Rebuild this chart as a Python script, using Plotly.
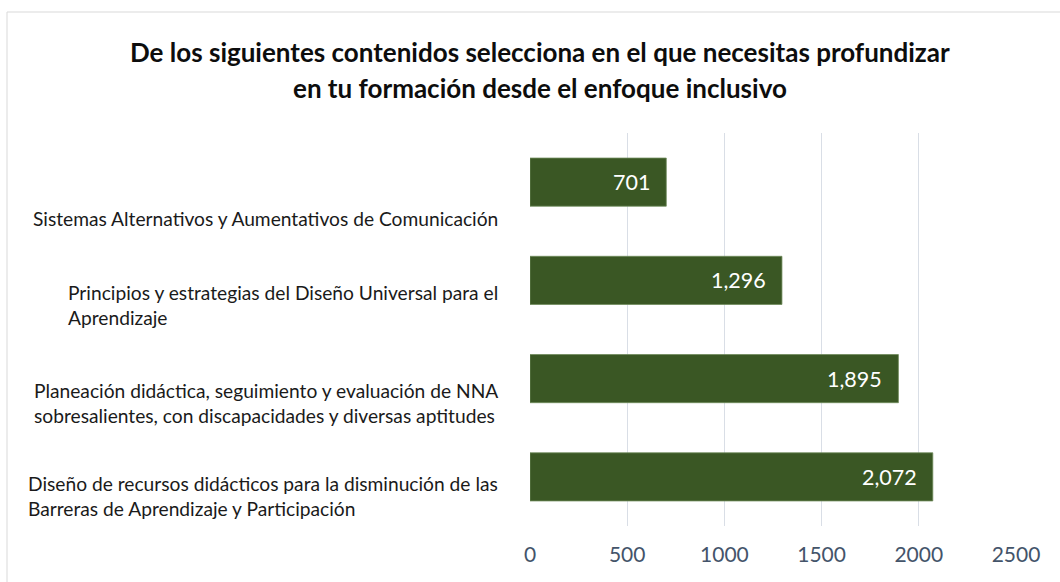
import plotly.graph_objects as go

categories = [
    "Diseño de recursos didácticos para la disminución de las<br>Barreras de Aprendizaje y Participación",
    "Planeación didáctica, seguimiento y evaluación de NNA<br>sobresalientes, con discapacidades y diversas aptitudes",
    "Principios y estrategias del Diseño Universal para el<br>Aprendizaje",
    "Sistemas Alternativos y Aumentativos de Comunicación",
]
values = [2072, 1895, 1296, 701]
tick_values = [0, 500, 1000, 1500, 2000, 2500]
tick_labels = ["0", "500", "1000", "1500", "2000", "2500"]
title_lines = [
    "De los siguientes contenidos selecciona en el que necesitas profundizar",
    "en tu formación desde el enfoque inclusivo",
]

FONT = "Lato"
BAR = "#3a5724"
label_shift = [-19, -24, -25, -36]

W, H = 1060, 582
L, R, T, B = 530, 44, 133, 56
pw, ph = W - L - R, H - T - B


def px_x(x):
    return (x - L) / pw


def px_y(y):
    return (H - B - y) / ph


fig = go.Figure()
fig.add_trace(go.Bar(
    x=values, y=categories, orientation="h",
    marker=dict(color=BAR, line=dict(color="#6f8a5a", width=0.8)),
    width=0.49, hoverinfo="skip",
))

ann = []
for c, v in zip(categories, values):
    ann.append(dict(x=v, y=c, xref="x", yref="y", text=f"{v:,}", showarrow=False,
                    xanchor="right", yanchor="middle", xshift=-14,
                    font=dict(family=FONT, size=21.5, color="white")))
for c, s in zip(categories, label_shift):
    ann.append(dict(x=px_x(500), y=c, xref="paper", yref="y", text=c, showarrow=False,
                    xanchor="right", yanchor="middle", align="left", yshift=s,
                    font=dict(family=FONT, size=19.2, color="#1a1a1a")))
for line, py in zip(title_lines, [52, 88]):
    ann.append(dict(x=px_x(540), y=px_y(py), xref="paper", yref="paper", text=f"<b>{line}</b>",
                    showarrow=False, xanchor="center", yanchor="middle",
                    font=dict(family=FONT, size=26, color="#0d0d0d")))

fig.update_layout(
    width=W, height=H,
    margin=dict(l=L, r=R, t=T, b=B),
    paper_bgcolor="white", plot_bgcolor="white",
    showlegend=False,
    bargap=0.51,
    annotations=ann,
    shapes=[dict(type="rect", xref="paper", yref="paper",
                 x0=px_x(7), x1=px_x(1200), y0=px_y(700), y1=px_y(12),
                 line=dict(color="#d9d9d9", width=1), fillcolor="rgba(0,0,0,0)", layer="below")],
    xaxis=dict(range=[0, 2500], tickvals=tick_values, ticktext=tick_labels,
               showgrid=True, gridcolor="#d9dee6", gridwidth=1.3, zeroline=False,
               showline=False, ticks="", ticklabelstandoff=14,
               tickfont=dict(family=FONT, size=21, color="#44546a")),
    yaxis=dict(showticklabels=False, showgrid=False, zeroline=False, showline=False,
               categoryorder="array", categoryarray=categories),
)

fig.write_html("out.html", config={"displayModeBar": False},
               post_script="document.body.style.margin='0';document.body.style.padding='0';")
